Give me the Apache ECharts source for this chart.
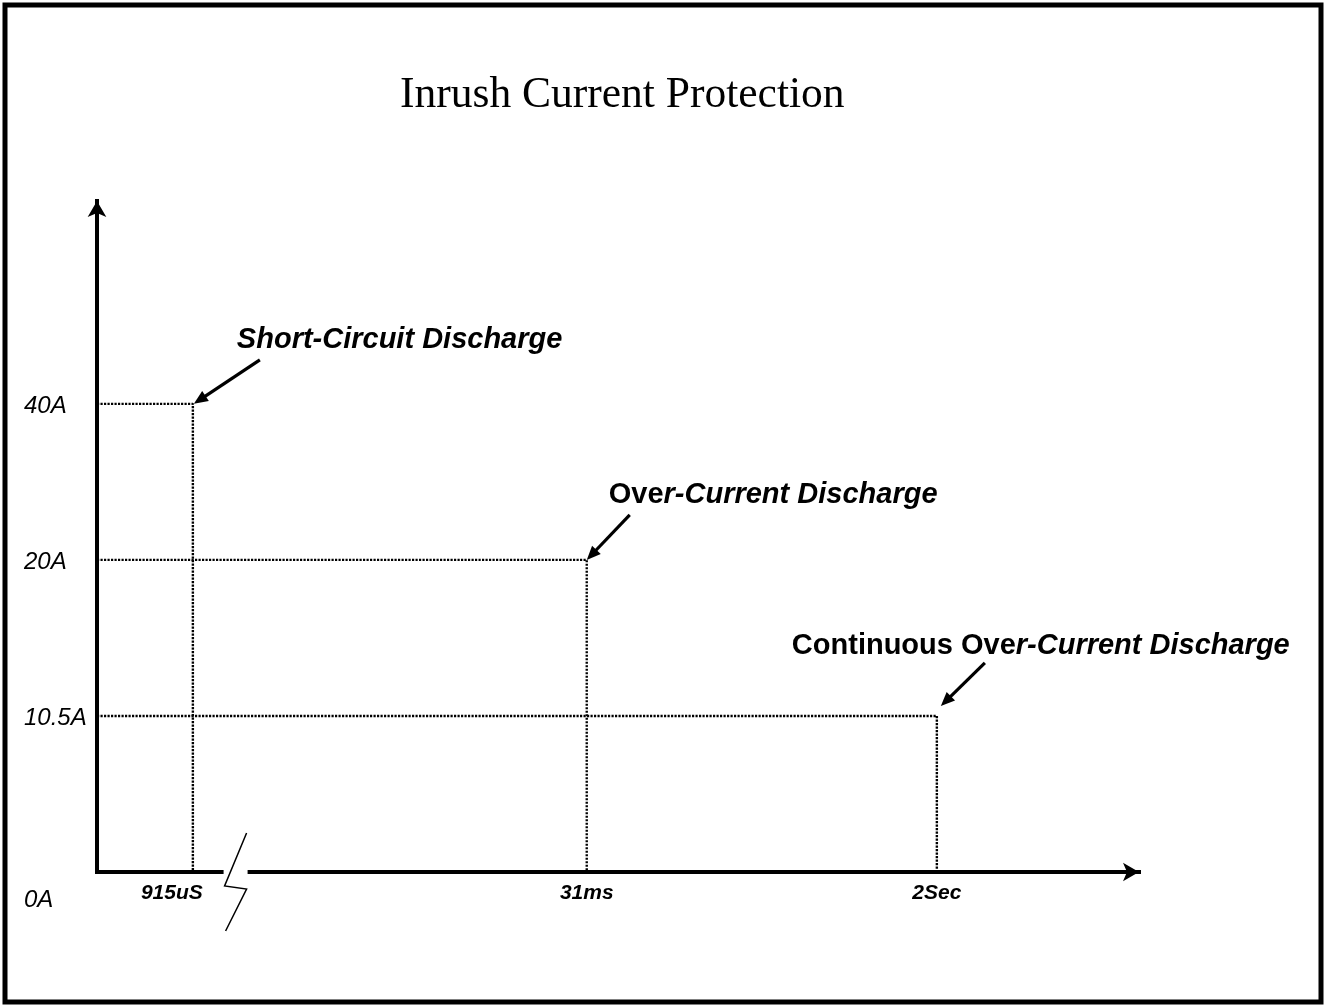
<!DOCTYPE html>
<html><head><meta charset="utf-8">
<script src="https://cdn.jsdelivr.net/npm/echarts@6/dist/echarts.min.js"></script>
<style>html,body{margin:0;padding:0;background:#fff}#c{width:1326px;height:1007px}</style>
</head><body><div id="c"></div>
<script>
// ---- data ----
const titleText = 'Inrush Current Protection';
const eventNames = ['Short-Circuit Discharge', 'Over-Current Discharge', 'Continuous Over-Current Discharge'];
const timeLabels = ['915uS', '31ms', '2Sec'];
const timePositions = [9.2, 47.0, 80.6];      // schematic position on the broken time axis
const currentValues = [40, 20, 10.5];
const currentTicks = [0, 10.5, 20, 40];
const currentTickLabels = ['0A', '10.5A', '20A', '40A'];
const axisBreakPos = 13.3;

// ---- styling / layout (not data) ----
const uprightChars = [0, 3, 14];
const annoLayout = [
  {tip: [1, 0], start: [67, -44], text: [44, -64]},
  {tip: [0, 0], start: [43, -45], text: [22, -65]},
  {tip: [4, -10], start: [48, -53], text: [-145, -70]}
];
const SANS = '"Liberation Sans", Arial, sans-serif';
const level = c => currentTicks.indexOf(c);

const chart = echarts.init(document.getElementById('c'), null, {renderer: 'canvas'});

const series = eventNames.map((n, i) => ({
  name: n, type: 'line', silent: true, animation: false, symbol: 'none', z: 3,
  data: [[0, level(currentValues[i])], [timePositions[i], level(currentValues[i])], [timePositions[i], 0]],
  lineStyle: {color: '#000', width: 2.4, type: [2.2, 1.3]}
}));

const option = {
  backgroundColor: '#fff',
  animation: false,
  title: {
    text: titleText, left: 400, top: 74, padding: 0,
    textStyle: {fontFamily: '"Liberation Serif", "Times New Roman", serif', fontSize: 43.5, fontWeight: 'normal', color: '#000'}
  },
  grid: {left: 97, right: 187, top: 201, bottom: 135, containLabel: false, outerBoundsMode: 'none'},
  xAxis: {
    type: 'value', min: 0, max: 100,
    axisLine: {show: true, onZero: false, symbol: ['none', 'arrow'], symbolSize: [14, 16],
      lineStyle: {color: '#000', width: 4, cap: 'square'}},
    axisTick: {show: false}, splitLine: {show: false},
    axisLabel: {
      customValues: timePositions, margin: 11,
      formatter: v => { const i = timePositions.indexOf(v); return i === 0 ? '{s|' + timeLabels[i] + '}' : '{n|' + timeLabels[i] + '}'; },
      rich: {
        s: {fontFamily: SANS, fontStyle: 'italic', fontWeight: 'bold', fontSize: 21, color: '#000', padding: [0, 42, 0, 0]},
        n: {fontFamily: SANS, fontStyle: 'italic', fontWeight: 'bold', fontSize: 21, color: '#000'}
      }
    }
  },
  yAxis: {
    type: 'value', min: 0, max: 4.3,
    axisLine: {show: true, onZero: false, symbol: ['none', 'arrow'], symbolSize: [14, 16],
      lineStyle: {color: '#000', width: 4, cap: 'square'}},
    axisTick: {show: false}, splitLine: {show: false},
    axisLabel: {
      customValues: currentTicks.map((c, i) => i), align: 'left', margin: 73,
      formatter: v => v === 0 ? '{low|' + currentTickLabels[0] + '}' : '{n|' + currentTickLabels[v] + '}',
      rich: {
        low: {fontFamily: SANS, fontStyle: 'italic', fontSize: 24, color: '#000', padding: [56, 0, 0, 0]},
        n: {fontFamily: SANS, fontStyle: 'italic', fontSize: 24, color: '#000', padding: [4, 0, 0, 0]}
      }
    }
  },
  series: series
};
chart.setOption(option);

// ---- decorations positioned through the chart's own scales ----
const px = (x, y) => chart.convertToPixel({gridIndex: 0}, [x, y]);
const g = [];
// frame
g.push({type: 'rect', z: 100, shape: {x: 5, y: 5, width: 1316, height: 997}, style: {fill: null, stroke: '#000', lineWidth: 5}});
// axis break
const b = px(axisBreakPos, 0);
g.push({type: 'rect', z: 100, shape: {x: b[0] - 12, y: b[1] - 5, width: 24, height: 10}, style: {fill: '#fff', stroke: null}});
g.push({type: 'polyline', z: 101, shape: {points: [[b[0] + 11, b[1] - 39], [b[0] - 11, b[1] + 14], [b[0] + 11, b[1] + 17], [b[0] - 10, b[1] + 59]]},
  style: {stroke: '#000', lineWidth: 1.5, fill: null}});
// annotations
eventNames.forEach((name, i) => {
  const c = px(timePositions[i], level(currentValues[i]));
  const L = annoLayout[i];
  const tip = [c[0] + L.tip[0], c[1] + L.tip[1]];
  const st = [c[0] + L.start[0], c[1] + L.start[1]];
  const dx = tip[0] - st[0], dy = tip[1] - st[1], len = Math.hypot(dx, dy);
  const ux = dx / len, uy = dy / len, hl = 14, hw = 6;
  const base = [tip[0] - ux * hl, tip[1] - uy * hl];
  g.push({type: 'line', z: 101, shape: {x1: st[0], y1: st[1], x2: base[0] + ux * 2, y2: base[1] + uy * 2}, style: {stroke: '#000', lineWidth: 3.2}});
  g.push({type: 'polygon', z: 101, shape: {points: [tip, [base[0] - uy * hw, base[1] + ux * hw], [base[0] + uy * hw, base[1] - ux * hw]]}, style: {fill: '#000'}});
  const k = uprightChars[i];
  const txt = (k > 0 ? '{n|' + name.slice(0, k) + '}' : '') + '{i|' + name.slice(k) + '}';
  g.push({type: 'text', z: 101, x: c[0] + L.text[0], y: c[1] + L.text[1],
    style: {text: txt, align: 'left', verticalAlign: 'middle',
      rich: {
        n: {fontFamily: SANS, fontWeight: 'bold', fontStyle: 'normal', fontSize: 29, fill: '#000', color: '#000'},
        i: {fontFamily: SANS, fontWeight: 'bold', fontStyle: 'italic', fontSize: 29, fill: '#000', color: '#000'}
      }}});
});
chart.setOption({graphic: {elements: g}});
</script>
</body></html>
